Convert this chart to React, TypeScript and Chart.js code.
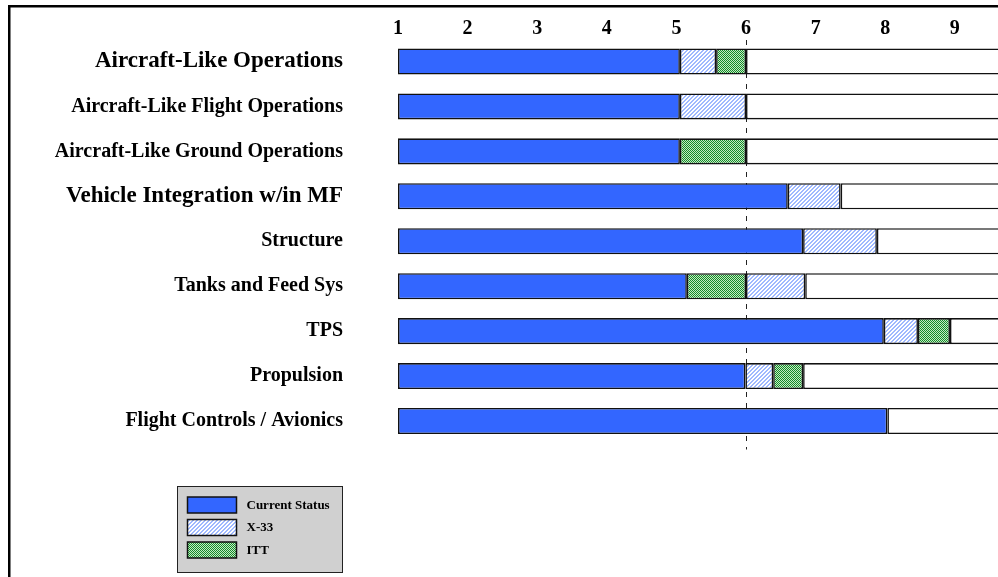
import React, { useEffect, useRef } from "react";
import { Chart, registerables } from "chart.js";

Chart.register(...registerables);

// ---- data ----
const categories = [
  "Aircraft-Like Operations",
  "Aircraft-Like Flight Operations",
  "Aircraft-Like Ground Operations",
  "Vehicle Integration w/in MF",
  "Structure",
  "Tanks and Feed Sys",
  "TPS",
  "Propulsion",
  "Flight Controls / Avionics",
];
const headlineRows = [true, false, false, true, false, false, false, false, false];
const scaleStart = 1;
const currentStatus = [5.05, 5.05, 5.05, 6.6, 6.82, 5.15, 7.98, 5.99, 8.03];
const x33Start = [5.05, 5.05, null, 6.6, 6.82, 6.0, 7.98, 5.99, null];
const x33End = [5.57, 6.0, null, 7.36, 7.88, 6.85, 8.47, 6.39, null];
const ittStart = [5.57, null, 5.05, null, null, 5.15, 8.47, 6.39, null];
const ittEnd = [6.0, null, 6.0, null, null, 6.0, 8.93, 6.82, null];
const scaleEnd = 10;
const axisMin = 1;
const axisMax = 9.62;
const targetLevel = 6;
const seriesNames = ["Current Status", "X-33", "ITT"];

const FONT = "'Liberation Serif', 'Times New Roman', serif";
const W = 998;
const H = 577;

function makePattern(kind: "x33" | "itt"): CanvasPattern | string {
  const c = document.createElement("canvas");
  c.width = 4;
  c.height = 4;
  const g = c.getContext("2d");
  if (!g) return kind === "x33" ? "#c3d2fa" : "#6fbf74";
  for (let y = 0; y < 4; y++) {
    for (let x = 0; x < 4; x++) {
      if (kind === "x33") {
        g.fillStyle = (x + y) % 4 < 2 ? "#9fb9ff" : "#ffffff";
      } else {
        g.fillStyle = (x + y) % 2 === 0 ? "#138a2a" : "#c4ebc2";
      }
      g.fillRect(x, y, 1, 1);
    }
  }
  const p = g.createPattern(c, "repeat");
  return p || (kind === "x33" ? "#c3d2fa" : "#6fbf74");
}

function zeroPadding(scale: any) {
  scale.paddingTop = 0;
  scale.paddingBottom = 0;
  scale.paddingLeft = 0;
  scale.paddingRight = 0;
}

export default function App() {
  const canvasRef = useRef<HTMLCanvasElement | null>(null);

  useEffect(() => {
    document.body.style.overflow = "hidden";
    const canvas = canvasRef.current;
    if (!canvas) return;

    const x33Fill = makePattern("x33");
    const ittFill = makePattern("itt");

    const pair = (s: (number | null)[], e: (number | null)[]) =>
      s.map((v, i) => (v === null || e[i] === null ? null : [v, e[i] as number]));

    const remainder = categories.map((_, i) => {
      const ends = [currentStatus[i], x33End[i] ?? 0, ittEnd[i] ?? 0];
      return [Math.max(...ends), scaleEnd];
    });

    const common = {
      borderColor: "#111",
      borderWidth: 1.6,
      borderSkipped: false as const,
      barPercentage: 0.58,
      categoryPercentage: 1,
      grouped: false,
    };

    const decorPlugin = {
      id: "frameGuideLegend",
      beforeDatasetsDraw(chart: any) {
        const { ctx, chartArea, scales } = chart;
        const x = Math.round(scales.x.getPixelForValue(targetLevel)) + 0.5;
        ctx.save();
        ctx.strokeStyle = "#222";
        ctx.lineWidth = 1;
        ctx.setLineDash([5, 6]);
        ctx.beginPath();
        ctx.moveTo(x, chartArea.top + 1);
        ctx.lineTo(x, chartArea.bottom + 6);
        ctx.stroke();
        ctx.restore();
      },
      afterDraw(chart: any) {
        const { ctx } = chart;
        ctx.save();
        // outer frame (left and top edges)
        ctx.fillStyle = "#000";
        ctx.fillRect(8, 5, W - 8, 2.5);
        ctx.fillRect(8, 5, 2.5, H - 5);

        // legend box
        const bx = 177.5, by = 486.5, bw = 165, bh = 86;
        ctx.fillStyle = "#d0d0d0";
        ctx.fillRect(bx, by, bw, bh);
        ctx.strokeStyle = "#222";
        ctx.lineWidth = 1;
        ctx.strokeRect(bx, by, bw, bh);
        const ds = chart.data.datasets.slice(0, 3);
        ds.forEach((d: any, i: number) => {
          const sy = by + 10.5 + i * 22.5;
          ctx.fillStyle = d.backgroundColor;
          ctx.fillRect(bx + 10, sy, 49, 16);
          ctx.strokeStyle = "#111";
          ctx.lineWidth = 1.5;
          ctx.strokeRect(bx + 10, sy, 49, 16);
          ctx.fillStyle = "#000";
          ctx.font = `bold 13px ${FONT}`;
          ctx.textBaseline = "middle";
          ctx.textAlign = "left";
          ctx.fillText(d.label, bx + 69, sy + 8.5);
        });
        ctx.restore();
      },
    };

    const chart = new Chart(canvas, {
      type: "bar",
      data: {
        labels: categories,
        datasets: [
          {
            label: seriesNames[0],
            data: currentStatus.map((v) => [scaleStart, v]) as any,
            backgroundColor: "#3366ff",
            ...common,
          },
          {
            label: seriesNames[1],
            data: pair(x33Start, x33End) as any,
            backgroundColor: x33Fill as any,
            ...common,
          },
          {
            label: seriesNames[2],
            data: pair(ittStart, ittEnd) as any,
            backgroundColor: ittFill as any,
            ...common,
          },
          {
            label: "remainder",
            data: remainder as any,
            backgroundColor: "#ffffff",
            clip: 0 as any,
            ...common,
          },
        ],
      },
      options: {
        indexAxis: "y",
        responsive: false,
        animation: false,
        layout: { padding: { left: 0, right: 0, top: 0, bottom: 133.5 } },
        plugins: {
          legend: { display: false },
          tooltip: { enabled: false },
        },
        scales: {
          x: {
            type: "linear",
            position: "top",
            min: axisMin,
            max: axisMax,
            grid: { display: false, drawTicks: false },
            border: { display: false },
            ticks: {
              stepSize: 1,
              includeBounds: false,
              color: "#000",
              padding: -2,
              font: { family: FONT, weight: "bold", size: 20 },
            },
            afterFit(scale: any) {
              scale.height = 39;
              zeroPadding(scale);
            },
          },
          y: {
            type: "category",
            grid: { display: false, drawTicks: false },
            border: { display: false },
            ticks: {
              color: "#000",
              padding: 55,
              font: ((c: any) => ({
                family: FONT,
                weight: "bold",
                size: headlineRows[c.index] ? 23 : 20,
              })) as any,
            },
            afterFit(scale: any) {
              scale.width = 398;
              zeroPadding(scale);
            },
          },
        },
      },
      plugins: [decorPlugin],
    } as any);

    return () => chart.destroy();
  }, []);

  return (
    <canvas
      ref={canvasRef}
      width={W}
      height={H}
      style={{
        position: "fixed",
        left: 0,
        top: 0,
        display: "block",
        width: W,
        height: H,
        background: "#fff",
      }}
    />
  );
}
